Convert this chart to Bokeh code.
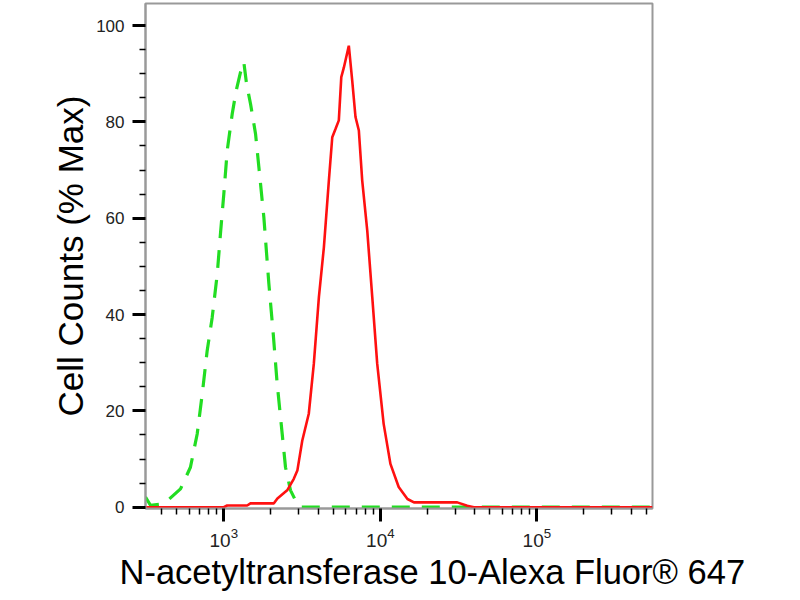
from bokeh.plotting import figure
from bokeh.models import FixedTicker, Title
from bokeh.embed import file_html
from bokeh.resources import INLINE

# isotype control (green, dashed)
ctrl_x = [316, 340, 390, 445, 529, 612, 676, 728, 783, 843, 908, 952, 1000, 1051,
          1132, 1200, 1279, 1342, 1397, 1482, 1595, 1675, 1802, 1940, 2069, 2193,
          2361, 2478, 2668, 2872, 3090, 548000]
ctrl_y = [2.1, 0.4, 0.6, 1.6, 3.8, 8.3, 15.2, 23.5, 32.5, 39.4, 48.4, 56.8, 65, 74,
          81.7, 86.5, 90.3, 92.4, 87.9, 83.7, 77.5, 70.6, 60.2, 46.4, 36, 25.6,
          15.2, 8.3, 3.5, 1.4, 0, 0]

# stained sample (red, solid)
stain_x = [316, 1000, 1050, 1410, 1480, 2090, 2200, 2540, 2800, 2950, 3170, 3490,
           3760, 4050, 4360, 4690, 4930, 5170, 5430, 5630, 5850, 6290, 6610, 6940,
           7290, 7660, 8250, 8880, 9550, 10500, 11600, 13100, 14900, 16400, 31000,
           35900, 39600, 548000]
stain_y = [0, 0, 0.35, 0.35, 0.8, 0.8, 1.8, 3.5, 5.9, 7.6, 13.8, 19.4, 29.8, 43.6,
           54, 67.8, 76.8, 78.5, 80.3, 89.3, 91.3, 95.8, 88.6, 81, 78.2, 67.8, 57.4,
           43.6, 29.8, 17.3, 9, 4.2, 1.7, 1.0, 1.0, 0.3, 0, 0]

x_major = [1e3, 1e4, 1e5]
x_minor = [m * d for d in (100, 1000, 10000, 100000) for m in range(2, 10)]
y_major = [0, 20, 40, 60, 80, 100]
y_minor = [5, 10, 15, 25, 30, 35, 45, 50, 55, 65, 70, 75, 85, 90, 95]

FONT = "Liberation Sans"

p = figure(width=792, height=598, x_axis_type="log",
           x_range=(316, 548000), y_range=(-0.27, 104.57),
           output_backend="svg", toolbar_location=None, title=None,
           min_border_left=145, min_border_right=140,
           min_border_top=3, min_border_bottom=90)

p.line(ctrl_x, ctrl_y, line_color="#22dd22", line_width=3.2, line_dash="18 12")
p.line(stain_x, stain_y, line_color="#ff1010", line_width=2.6)

p.xgrid.visible = False
p.ygrid.visible = False
p.outline_line_color = "#999999"
p.outline_line_width = 2

p.xaxis.ticker = FixedTicker(ticks=x_major, minor_ticks=x_minor)
p.yaxis.ticker = FixedTicker(ticks=y_major, minor_ticks=y_minor)

for ax in (p.xaxis, p.yaxis):
    ax.axis_line_color = "#999999"
    ax.axis_line_width = 2
    ax.major_tick_in = 0
    ax.major_tick_out = 13
    ax.major_tick_line_width = 3
    ax.major_tick_line_color = "black"
    ax.minor_tick_in = 0
    ax.minor_tick_out = 6
    ax.minor_tick_line_width = 1.5
    ax.minor_tick_line_color = "black"
    ax.major_label_text_font = FONT
    ax.major_label_text_color = "#222222"
    ax.axis_label_text_font = FONT
    ax.axis_label_text_font_style = "normal"
    ax.axis_label_text_color = "black"

p.xaxis.major_label_text_font_size = "19px"
p.yaxis.major_label_text_font_size = "17px"
p.xaxis.major_label_standoff = 6
p.yaxis.major_label_standoff = 8

p.yaxis.axis_label = "Cell Counts (% Max)"
p.yaxis.axis_label_text_font_size = "35px"
p.yaxis.axis_label_standoff = 3

# x title sits right of centre in the reference, so place it as a left-aligned title
p.add_layout(Title(text="N-acetyltransferase 10-Alexa Fluor® 647", align="left",
                   offset=-26, standoff=3, text_font=FONT, text_font_size="34.5px",
                   text_font_style="normal", text_color="black"), "below")

open("out.html", "w").write(file_html(p, INLINE))
